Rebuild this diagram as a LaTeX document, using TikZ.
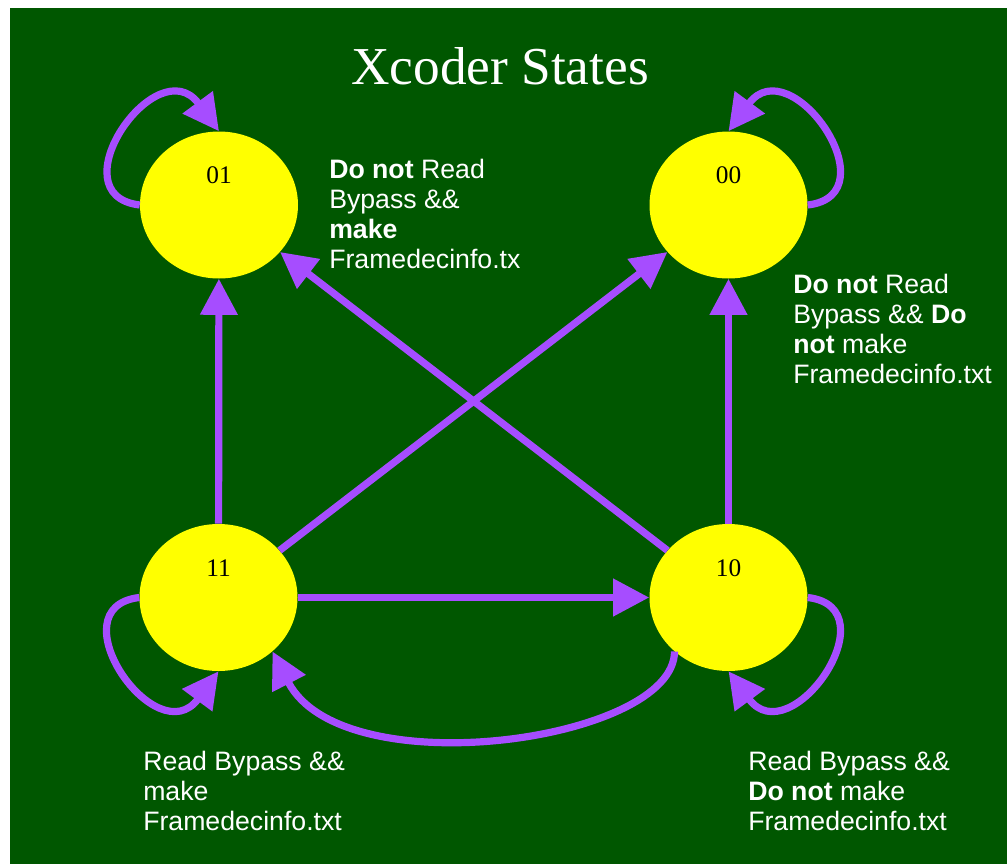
\documentclass[tikz,border=0pt]{standalone}
\usepackage{fontspec}
\setmainfont{Liberation Serif}
\setsansfont{Liberation Sans}
\usetikzlibrary{arrows.meta,shapes.geometric}
\definecolor{bggreen}{RGB}{0,87,0}
\definecolor{arrowpurple}{RGB}{166,77,255}
\definecolor{stateyellow}{RGB}{255,255,0}
\tikzset{
  statenode/.style={ellipse, fill=stateyellow, draw=none, inner sep=0pt,
    minimum width=118.5pt, minimum height=110.25pt},
  statelabel/.style={font=\fontsize{19}{22}\selectfont, text=black},
  conn/.style={draw=arrowpurple, line width=5.4pt,
    -{Triangle[length=27pt,width=27pt]}},
  notetext/.style={align=left, anchor=north west, inner sep=0pt, text=white,
    font=\sffamily\fontsize{20}{22.5}\selectfont},
}
\begin{document}
\begin{tikzpicture}[x=0.75pt, y=-0.75pt]
\useasboundingbox (0,0) rectangle (1007,864);
\fill[bggreen] (10,8) rectangle (1007,864);

\node[anchor=base, text=white, font=\fontsize{40}{48}\selectfont] (title) at (500,84) {Xcoder States};

\node[statenode, label={[statelabel, yshift=22pt]center:01}] (n01) at (219,205) {};
\node[statenode, label={[statelabel, yshift=22pt]center:00}] (n00) at (728.5,205) {};
\node[statenode, label={[statelabel, yshift=22pt]center:11}] (n11) at (218.5,597.5) {};
\node[statenode, label={[statelabel, yshift=22pt]center:10}] (n10) at (728.5,597.5) {};

% straight connectors
\draw[conn] (n11) -- (n01);
\draw[conn] (n10) -- (n00);
\draw[conn] (n11) -- (n10);
\draw[conn] (n11) -- (n00);
\draw[conn] (n10) -- (n01);

% self loops
\draw[conn] (n01.west) .. controls +(-85,-10) and +(-62,-84) .. (n01.north);
\draw[conn] (n00.east) .. controls +(85,-10) and +(62,-84) .. (n00.north);
\draw[conn] (n11.west) .. controls +(-85,10) and +(-62,84) .. (n11.south);
\draw[conn] (n10.east) .. controls +(85,10) and +(62,84) .. (n10.south);

% curved 10 -> 11
\draw[conn] (n10.225) .. controls +(0,90) and +(70,136) .. (n11.315);

% notes
\node[notetext] (t01) at (329,158.5) {\textbf{Do not} Read\\Bypass \&\&\\\textbf{make}\\Framedecinfo.tx};
\node[notetext] (t00) at (793,273.5) {\textbf{Do not} Read\\Bypass \&\& \textbf{Do}\\\textbf{not} make\\Framedecinfo.txt};
\node[notetext] (t11) at (143,750.5) {Read Bypass \&\&\\make\\Framedecinfo.txt};
\node[notetext] (t10) at (748,750.5) {Read Bypass \&\&\\\textbf{Do not} make\\Framedecinfo.txt};
\end{tikzpicture}
\end{document}
